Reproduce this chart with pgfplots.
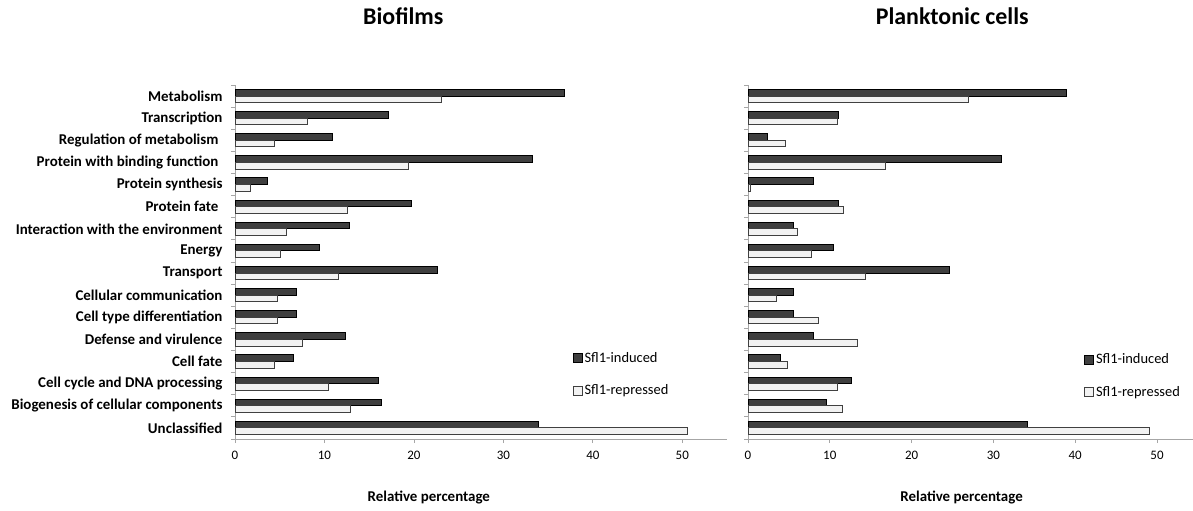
\documentclass[border=0pt]{standalone}
\usepackage{fontspec}
\setmainfont{Carlito}
\usepackage{pgfplots}
\usepackage{pgfplotstable}
\pgfplotsset{compat=1.18}
\definecolor{ind}{HTML}{3F3F3F}
\definecolor{rep}{HTML}{F2F2F2}
\definecolor{axg}{HTML}{A6A6A6}
\definecolor{repedge}{HTML}{404040}

\pgfplotstableread{
y ind rep
15 36.8 23.1
14 17.2 8.1
13 10.9 4.4
12 33.2 19.4
11 3.6 1.7
10 19.7 12.6
9 12.8 5.8
8 9.4 5.1
7 22.6 11.6
6 6.9 4.8
5 6.9 4.8
4 12.4 7.5
3 6.5 4.4
2 16.0 10.5
1 16.4 12.9
0 33.9 50.6
}\tabBio

\pgfplotstableread{
y ind rep
15 38.9 26.9
14 11.1 10.9
13 2.4 4.6
12 31.0 16.8
11 8.0 0.3
10 11.1 11.7
9 5.6 6.1
8 10.4 7.7
7 24.6 14.3
6 5.6 3.5
5 5.6 8.6
4 8.0 13.4
3 4.0 4.8
2 12.7 10.9
1 9.6 11.5
0 34.2 49.1
}\tabPlank

\pgfplotsset{
  common/.style={
    scale only axis,
    height=354bp,
    xmin=0, ymin=-0.5, ymax=15.5,
    axis lines*=left,
    axis line style={axg, line width=0.8bp},
    tick style={axg, line width=0.8bp},
    tick align=outside,
    major tick length=4bp,
    xtick={0,10,20,30,40,50},
    xticklabel style={font=\fontsize{13}{15}\selectfont, yshift=-5bp},
    ytick={-0.5,0.5,...,15.5},
    yticklabels={},
    /pgf/number format/assume math mode=true,
    clip=false,
    legend image code/.code={\draw[#1] (0bp,-4.5bp) rectangle (9bp,4.5bp);},
    legend style={draw=none, fill=none, inner sep=0pt, row sep=17bp,
      font=\fontsize{14.5}{17}\selectfont, cells={anchor=west}},
    title style={font=\fontsize{24}{28}\selectfont\bfseries, anchor=center},
    xlabel style={font=\fontsize{15}{18}\selectfont\bfseries, anchor=center},
  },
  indbar/.style={xbar, bar width=0.3, bar shift=0.15, fill=ind, draw=black, line width=0.9bp},
  repbar/.style={xbar, bar width=0.3, bar shift=-0.15, fill=rep, draw=repedge, line width=0.9bp},
}

\begin{document}
\begin{tikzpicture}
\path[use as bounding box] (0,0) rectangle (1193bp,511bp);
\begin{axis}[common,
  at={(235bp,72bp)}, anchor=south west,
  width=492bp, xmax=55,
  extra y ticks={0,...,15},
  extra y tick labels={Unclassified, Biogenesis of cellular components, Cell cycle and DNA processing, Cell fate, Defense and virulence, Cell type differentiation, Cellular communication, Transport, Energy, Interaction with the environment, Protein fate\hspace*{4bp}, Protein synthesis, Protein with binding function\hspace*{4bp}, Regulation of metabolism\hspace*{4bp}, Transcription, Metabolism},
  extra y tick style={tick style={draw=none}, yticklabel style={font=\fontsize{15}{17}\selectfont\bfseries, xshift=-5bp}},
  title={Biofilms},
  title style={at={(axis description cs:0.342,1.178)}},
  xlabel={Relative percentage},
  xlabel style={at={(axis description cs:0.394,-0.164)}},
  legend style={at={(axis description cs:0.686,0.1825)}, anchor=west},
]
\addplot[indbar] table[x=ind, y=y] {\tabBio};
\addplot[repbar] table[x=rep, y=y] {\tabBio};
\legend{Sfl1-induced, Sfl1-repressed}
\end{axis}

\begin{axis}[common,
  at={(748bp,72bp)}, anchor=south west,
  width=445bp, xmax=54.4,
  title={Planktonic cells},
  title style={at={(axis description cs:0.459,1.178)}},
  xlabel={Relative percentage},
  xlabel style={at={(axis description cs:0.48,-0.164)}},
  legend style={at={(axis description cs:0.755,0.1785)}, anchor=west},
]
\addplot[indbar] table[x=ind, y=y] {\tabPlank};
\addplot[repbar] table[x=rep, y=y] {\tabPlank};
\legend{Sfl1-induced, Sfl1-repressed}
\end{axis}
\end{tikzpicture}
\end{document}
